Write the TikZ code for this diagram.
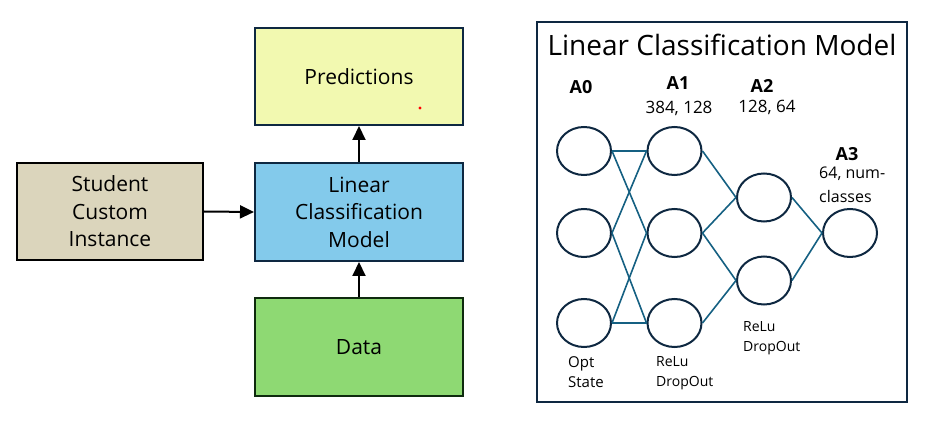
\documentclass[tikz,border=0pt]{standalone}
\usepackage{fontspec}
\setmainfont{Open Sans}
\usetikzlibrary{arrows.meta}
\usetikzlibrary{positioning}
\usetikzlibrary{shapes.geometric}
\definecolor{lcmNavy}{HTML}{0E2841}
\definecolor{lcmTeal}{HTML}{156082}
\definecolor{lcmTan}{HTML}{DBD5BC}
\definecolor{lcmBlue}{HTML}{83CAEB}
\definecolor{lcmYellow}{HTML}{F2F9B0}
\definecolor{lcmGreen}{HTML}{8ED973}
\definecolor{lcmGreenDark}{HTML}{0E2A0E}
\tikzset{
  lcm box/.style={
    rectangle,
    draw=lcmNavy,
    line width=2pt,
    minimum width=208pt,
    minimum height=97pt,
    align=center,
    inner sep=0pt,
    font=\fontsize{21}{27.5}\selectfont,
  },
}
\tikzset{
  lcm arrow/.style={
    -{Triangle[length=14pt,width=13pt]},
    draw=black,
    line width=2pt,
  },
}
\tikzset{
  lcm neuron/.style={
    ellipse,
    draw=lcmNavy,
    line width=2pt,
    minimum width=54pt,
    minimum height=48pt,
    inner sep=0pt,
  },
}
\tikzset{
  lcm link/.style={
    draw=lcmTeal,
    line width=1.6pt,
  },
}
\tikzset{
  lcm layer/.style={
    font=\fontsize{18}{20}\selectfont\bfseries,
    inner sep=0pt,
  },
}
\tikzset{
  lcm note/.style={
    font=\fontsize{15}{20}\selectfont,
    align=left,
    anchor=west,
    inner sep=0pt,
  },
}

\begin{document}
\begin{tikzpicture}[x=1pt, y=-1pt]
  \useasboundingbox (0,0) rectangle (931,427);

  % =========================================================================
  % Left flow: student instance, model, predictions, data
  % =========================================================================
  \node[lcm box, draw=black, fill=lcmTan, minimum width=186pt]
    (student) at (110, 211.5) {Student\\Custom\\Instance};
  \node[lcm box, fill=lcmBlue, minimum height=98pt]
    (model) at (359, 212) {Linear\\Classification\\Model};
  \node[lcm box, fill=lcmYellow]
    (pred) at (359, 76.5) {Predictions};
  \node[lcm box, draw=lcmGreenDark, fill=lcmGreen, minimum height=98pt]
    (data) at (359, 347) {Data};

  % stray marker dot in the predictions box
  \fill[red] (420, 108) circle (1.6);

  \draw[lcm arrow] (student.east) -- (model.west);
  \draw[lcm arrow] (model.north) -- (pred.south);
  \draw[lcm arrow] (data.north) -- (model.south);

  % =========================================================================
  % Right panel: layers of the model
  % =========================================================================
  \node[draw=lcmNavy, line width=2pt, minimum width=370pt, minimum height=380pt,
        inner sep=0pt]
    (panel) at (722, 212) {};
  \node[font=\fontsize{28}{30}\selectfont, inner sep=0pt]
    (title) at (722, 45) {Linear Classification Model};

  % neurons
  \node[lcm neuron] (a0t) at (584, 151) {};
  \node[lcm neuron] (a0m) at (584, 233) {};
  \node[lcm neuron] (a0b) at (584, 323) {};
  \node[lcm neuron] (a1t) at (674.5, 151) {};
  \node[lcm neuron] (a1m) at (674.5, 233) {};
  \node[lcm neuron] (a1b) at (674.5, 323) {};
  \node[lcm neuron] (a2t) at (764, 197.5) {};
  \node[lcm neuron] (a2b) at (764, 280.5) {};
  \node[lcm neuron] (a3)  at (850, 233) {};

  % links
  \draw[lcm link] (a0t.east) -- (a1t.west);
  \draw[lcm link] (a0t.east) -- (a1m.west);
  \draw[lcm link] (a0m.east) -- (a1t.west);
  \draw[lcm link] (a0m.east) -- (a1b.west);
  \draw[lcm link] (a0b.east) -- (a1m.west);
  \draw[lcm link] (a0b.east) -- (a1b.west);
  \draw[lcm link] (a1t.east) -- (a2t.west);
  \draw[lcm link] (a1m.east) -- (a2t.west);
  \draw[lcm link] (a1m.east) -- (a2b.west);
  \draw[lcm link] (a1b.east) -- (a2b.west);
  \draw[lcm link] (a2t.east) -- (a3.west);
  \draw[lcm link] (a2b.east) -- (a3.west);

  % layer labels
  \node[lcm layer] (l0) at (581, 87) {A0};
  \node[lcm layer] (l1) at (678, 83) {A1};
  \node[lcm layer] (l2) at (762, 86) {A2};
  \node[lcm layer] (l3) at (847, 154) {A3};
  \node[font=\fontsize{17}{20}\selectfont, inner sep=0pt]
    (s1) at (679, 108) {384, 128};
  \node[font=\fontsize{17}{20}\selectfont, inner sep=0pt]
    (s2) at (767, 107) {128, 64};
  \node[lcm note, font=\fontsize{16}{24}\selectfont]
    (s3) at (819, 185) {64, num-\\classes};

  % notes under the columns
  \node[lcm note] (n0) at (568, 372) {Opt\\State};
  \node[lcm note, font=\fontsize{14}{20}\selectfont] (n1) at (656, 373) {ReLu\\DropOut};
  \node[lcm note, font=\fontsize{14}{20}\selectfont] (n2) at (743, 338) {ReLu\\DropOut};

\end{tikzpicture}
\end{document}
